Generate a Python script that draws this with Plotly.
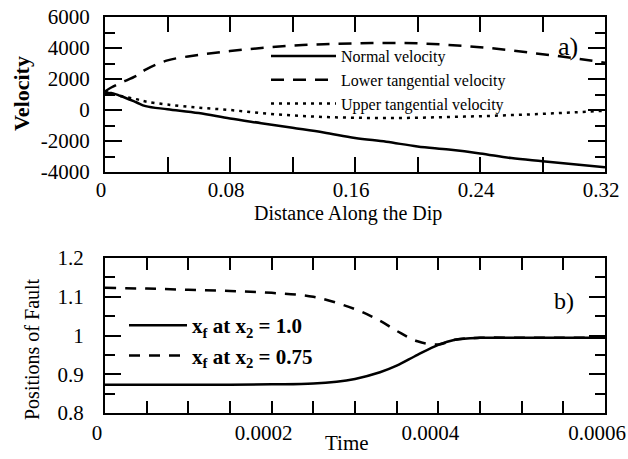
import plotly.graph_objects as go

# Panel a data
dist = [0, 0.004, 0.01, 0.02, 0.026, 0.04, 0.06, 0.08, 0.10, 0.12, 0.14, 0.16, 0.18, 0.20, 0.22, 0.24, 0.26, 0.28, 0.30, 0.32]
normal_v = [1050, 1100, 900, 500, 250, 50, -200, -550, -850, -1150, -1450, -1800, -2050, -2350, -2550, -2800, -3100, -3300, -3500, -3700]
lower_tan_v = [1200, 1450, 1750, 2200, 2600, 3200, 3550, 3800, 4000, 4150, 4250, 4300, 4320, 4300, 4200, 4050, 3850, 3600, 3350, 3050]
upper_tan_v = [1200, 1050, 900, 700, 550, 350, 150, 0, -200, -350, -450, -500, -520, -500, -450, -400, -330, -250, -150, -50]

# Panel b data
time = [0, 0.00005, 0.0001, 0.00015, 0.0002, 0.00025, 0.0003, 0.00033, 0.00035, 0.000375, 0.0004, 0.00042, 0.00045, 0.0005, 0.00055, 0.0006]
xf_x2_100 = [0.873, 0.873, 0.873, 0.873, 0.874, 0.876, 0.888, 0.905, 0.922, 0.950, 0.976, 0.989, 0.994, 0.994, 0.994, 0.994]
xf_x2_075 = [1.123, 1.121, 1.118, 1.115, 1.110, 1.100, 1.068, 1.038, 1.012, 0.985, 0.977, 0.989, 0.994, 0.994, 0.994, 0.994]

a_xticks = [0, 0.08, 0.16, 0.24, 0.32]
a_xtext = ["0", "0.08", "0.16", "0.24", "0.32"]
a_yticks = [-4000, -2000, 0, 2000, 4000, 6000]
a_ytext = ["-4000", "-2000", "0", "2000", "4000", "6000"]
b_xticks = [0, 0.0002, 0.0004, 0.0006]
b_xtext = ["0", "0.0002", "0.0004", "0.0006"]
b_yticks = [0.8, 0.9, 1.0, 1.1, 1.2]
b_ytext = ["0.8", "0.9", "1", "1.1", "1.2"]

FONT = "Liberation Serif"
W, H = 628, 459

fig = go.Figure()
lw = 2.5
fig.add_trace(go.Scatter(x=dist, y=normal_v, mode="lines", name="Normal velocity",
                         line=dict(color="black", width=lw, shape="spline"), xaxis="x", yaxis="y", legend="legend"))
fig.add_trace(go.Scatter(x=dist, y=lower_tan_v, mode="lines", name="Lower tangential velocity",
                         line=dict(color="black", width=lw, dash="13px,9px", shape="spline"), xaxis="x", yaxis="y", legend="legend"))
fig.add_trace(go.Scatter(x=dist, y=upper_tan_v, mode="lines", name="Upper tangential velocity",
                         line=dict(color="black", width=lw, dash="3px,5px", shape="spline"), xaxis="x", yaxis="y", legend="legend"))

fig.add_trace(go.Scatter(x=time, y=xf_x2_100, mode="lines", name="<b>x<sub>f</sub> at x<sub>2</sub> = 1.0</b>",
                         line=dict(color="black", width=lw, shape="spline"), xaxis="x2", yaxis="y2", legend="legend2"))
fig.add_trace(go.Scatter(x=time, y=xf_x2_075, mode="lines", name="<b>x<sub>f</sub> at x<sub>2</sub> = 0.75</b>",
                         line=dict(color="black", width=lw, dash="11px,9px", shape="spline"), xaxis="x2", yaxis="y2", legend="legend2"))

def px_x(p):
    return p / W

def px_y(p):
    return 1 - p / H

axis_common = dict(showline=True, linecolor="black", linewidth=2, mirror="allticks", automargin=False,
                   ticks="inside", tickcolor="black", tickwidth=1.5, showgrid=False, zeroline=False,
                   ticklabeloverflow="allow",
                   tickfont=dict(family=FONT, size=21, color="black"))

xdom = [px_x(105), px_x(605)]
fig.update_layout(
    width=W, height=H, margin=dict(l=0, r=0, t=0, b=0, autoexpand=False),
    plot_bgcolor="white", paper_bgcolor="white",
    font=dict(family=FONT, color="black"),
    xaxis=dict(domain=xdom, anchor="y", range=[0, 0.32], tickvals=a_xticks, ticktext=a_xtext, ticklen=15,
               ticklabelshift=-4, ticklabelstandoff=-2,
               minor=dict(dtick=0.04, tick0=0, ticklen=15, tickwidth=1.5, tickcolor="black", ticks="inside"),
               **axis_common),
    yaxis=dict(domain=[px_y(172), px_y(17)], anchor="x", range=[-4000, 6000], tickvals=a_yticks, ticktext=a_ytext, ticklen=17,
               ticklabelstandoff=9,
               minor=dict(dtick=1000, tick0=0, ticklen=10, tickwidth=1.5, tickcolor="black", ticks="inside"),
               **axis_common),
    xaxis2=dict(domain=xdom, anchor="y2", range=[0, 0.0006], tickvals=b_xticks, ticktext=b_xtext, ticklen=12,
                ticklabelshift=-8,
                minor=dict(dtick=0.00005, tick0=0, ticklen=12, tickwidth=1.5, tickcolor="black", ticks="inside"),
                **axis_common),
    yaxis2=dict(domain=[px_y(413), px_y(258)], anchor="x2", range=[0.8, 1.2], tickvals=b_yticks, ticktext=b_ytext, ticklen=16,
                ticklabelstandoff=15,
                minor=dict(dtick=0.05, tick0=0.8, ticklen=10, tickwidth=1.5, tickcolor="black", ticks="inside"),
                **axis_common),
    legend=dict(x=px_x(266), y=px_y(39), xanchor="left", yanchor="top", bgcolor="rgba(0,0,0,0)",
                font=dict(family=FONT, size=16, color="black"), tracegroupgap=0, itemwidth=65),
    legend2=dict(x=px_x(124), y=px_y(305), xanchor="left", yanchor="top", bgcolor="rgba(0,0,0,0)",
                 font=dict(family=FONT, size=21, color="black"), tracegroupgap=0, itemwidth=58),
    showlegend=True,
)

annots = [
    dict(text="<b>Velocity</b>", x=px_x(22), y=px_y(94), textangle=-90, font=dict(size=22)),
    dict(text="Distance Along the Dip", x=px_x(348), y=px_y(213), font=dict(size=20)),
    dict(text="Positions of Fault", x=px_x(32), y=px_y(349), textangle=-90, font=dict(size=20)),
    dict(text="Time", x=px_x(347), y=px_y(443), font=dict(size=21)),
    dict(text="a)", x=px_x(568), y=px_y(46), font=dict(size=26)),
    dict(text="b)", x=px_x(564), y=px_y(301), font=dict(size=24)),
]
for a in annots:
    a.update(xref="paper", yref="paper", showarrow=False, xanchor="center", yanchor="middle")
    a["font"].update(family=FONT, color="black")
    fig.add_annotation(**a)

fig.write_html("out.html", config={"displayModeBar": False},
               post_script="document.body.style.margin='0';document.body.style.overflow='hidden';")
